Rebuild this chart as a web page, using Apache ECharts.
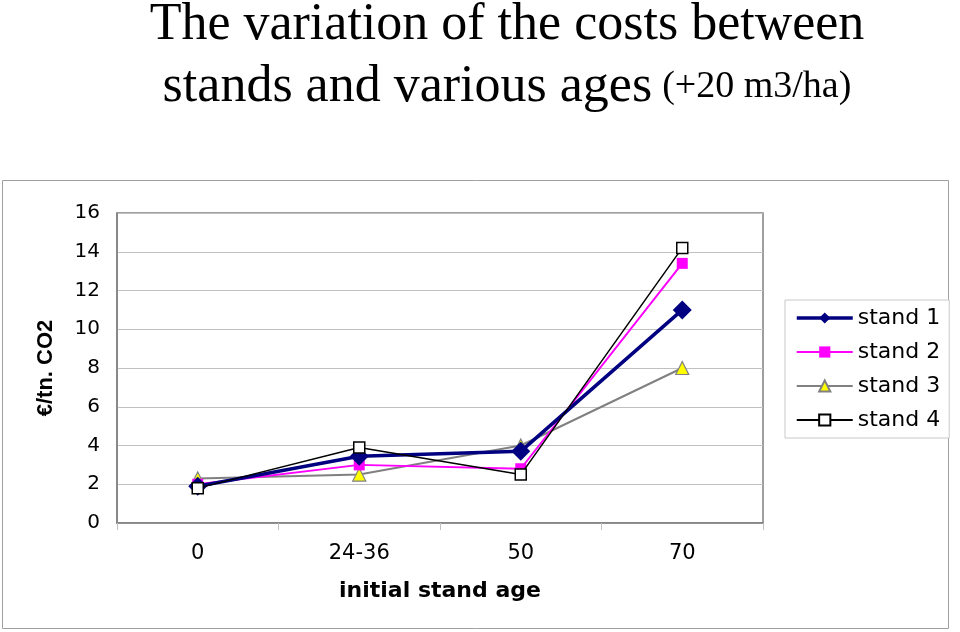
<!DOCTYPE html>
<html><head><meta charset="utf-8">
<script src="https://cdn.jsdelivr.net/npm/echarts@6/dist/echarts.min.js"></script>
<style>html,body{margin:0;padding:0;background:#fff}#c{width:960px;height:632px}</style>
</head><body><div id="c"></div>
<script>
const categories = ['0', '24-36', '50', '70'];
const stand1 = [1.9, 3.45, 3.7, 11.0];
const stand2 = [2.0, 3.0, 2.8, 13.4];
const stand3 = [2.3, 2.5, 4.0, 8.0];
const stand4 = [1.8, 3.9, 2.5, 14.2];
const yTicks = [0, 2, 4, 6, 8, 10, 12, 14, 16];

const chart = echarts.init(document.getElementById('c'));
chart.setOption({
  animation: false,
  backgroundColor: '#fff',
  title: {
    left: 502, top: -11, textAlign: 'center',
    text: '{a|The variation of the costs between}\n{a|stands and various ages}{s| }{b|(+20 m3/ha)}',
    textStyle: {
      fontWeight: 'normal',
      rich: {
        a: {fontFamily: 'Liberation Serif', fontSize: 52, fontWeight: 'normal', color: '#000', lineHeight: 62},
        s: {width: 10, fontSize: 10, lineHeight: 62},
        b: {fontFamily: 'Liberation Serif', fontSize: 38, fontWeight: 'normal', color: '#000', lineHeight: 62}
      }
    }
  },
  graphic: [{
    type: 'rect', shape: {x: 2.5, y: 180.5, width: 946, height: 448},
    style: {fill: 'none', stroke: '#a0a0a0', lineWidth: 1}, z: -1
  }],
  legend: {
    orient: 'vertical', left: 785, top: 300,
    itemWidth: 56, itemHeight: 14, itemGap: 12,
    padding: [7, 9, 7, 10],
    borderColor: '#c8c8c8', borderWidth: 1, backgroundColor: '#fff',
    textStyle: {fontFamily: 'DejaVu Sans', fontSize: 22, color: '#000'},
    data: [
      {name: 'stand 1', lineStyle: {width: 3.5}},
      {name: 'stand 2'},
      {name: 'stand 3'},
      {name: 'stand 4'}
    ]
  },
  grid: {left: 117, top: 213, width: 646, height: 310, show: true, borderColor: '#808080', borderWidth: 1.5},
  xAxis: {
    type: 'category', data: categories, boundaryGap: true,
    name: 'initial stand age', nameLocation: 'middle', nameGap: 57,
    nameTextStyle: {fontFamily: 'DejaVu Sans', fontSize: 22, fontWeight: 'bold', color: '#000'},
    axisLine: {lineStyle: {color: '#808080', width: 1.5}},
    axisTick: {show: true, length: 7, lineStyle: {color: '#c0c0c0'}},
    axisLabel: {fontFamily: 'DejaVu Sans', fontSize: 21, color: '#000', margin: 20}
  },
  yAxis: {
    type: 'value', min: 0, max: 16, interval: 2,
    name: '€/tn. CO2', nameLocation: 'middle', nameGap: 60, nameRotate: 90,
    nameTextStyle: {fontFamily: 'Liberation Sans', fontSize: 22, fontWeight: 'bold', color: '#000'},
    axisLine: {show: true, lineStyle: {color: '#808080', width: 1.5}},
    axisTick: {show: false},
    axisLabel: {fontFamily: 'DejaVu Sans', fontSize: 20, color: '#000', margin: 17,
      formatter: v => yTicks.includes(v) ? String(v) : ''},
    splitLine: {lineStyle: {color: '#c0c0c0', width: 1}}
  },
  series: [
    {name: 'stand 1', type: 'line', data: stand1, symbol: 'diamond', symbolSize: 19,
      lineStyle: {color: '#000080', width: 3.5}, itemStyle: {color: '#000080'}, z: 4},
    {name: 'stand 2', type: 'line', data: stand2, symbol: 'rect', symbolSize: 11,
      lineStyle: {color: '#ff00ff', width: 2}, itemStyle: {color: '#ff00ff'}, z: 3},
    {name: 'stand 3', type: 'line', data: stand3, symbol: 'triangle', symbolSize: 13,
      lineStyle: {color: '#808080', width: 2}, itemStyle: {color: '#ffff00', borderColor: '#808080', borderWidth: 1.2}, z: 2},
    {name: 'stand 4', type: 'line', data: stand4, symbol: 'rect', symbolSize: 11,
      lineStyle: {color: '#000000', width: 1.5}, itemStyle: {color: '#ffffff', borderColor: '#000000', borderWidth: 1.5}, z: 5}
  ]
});
</script></body></html>
